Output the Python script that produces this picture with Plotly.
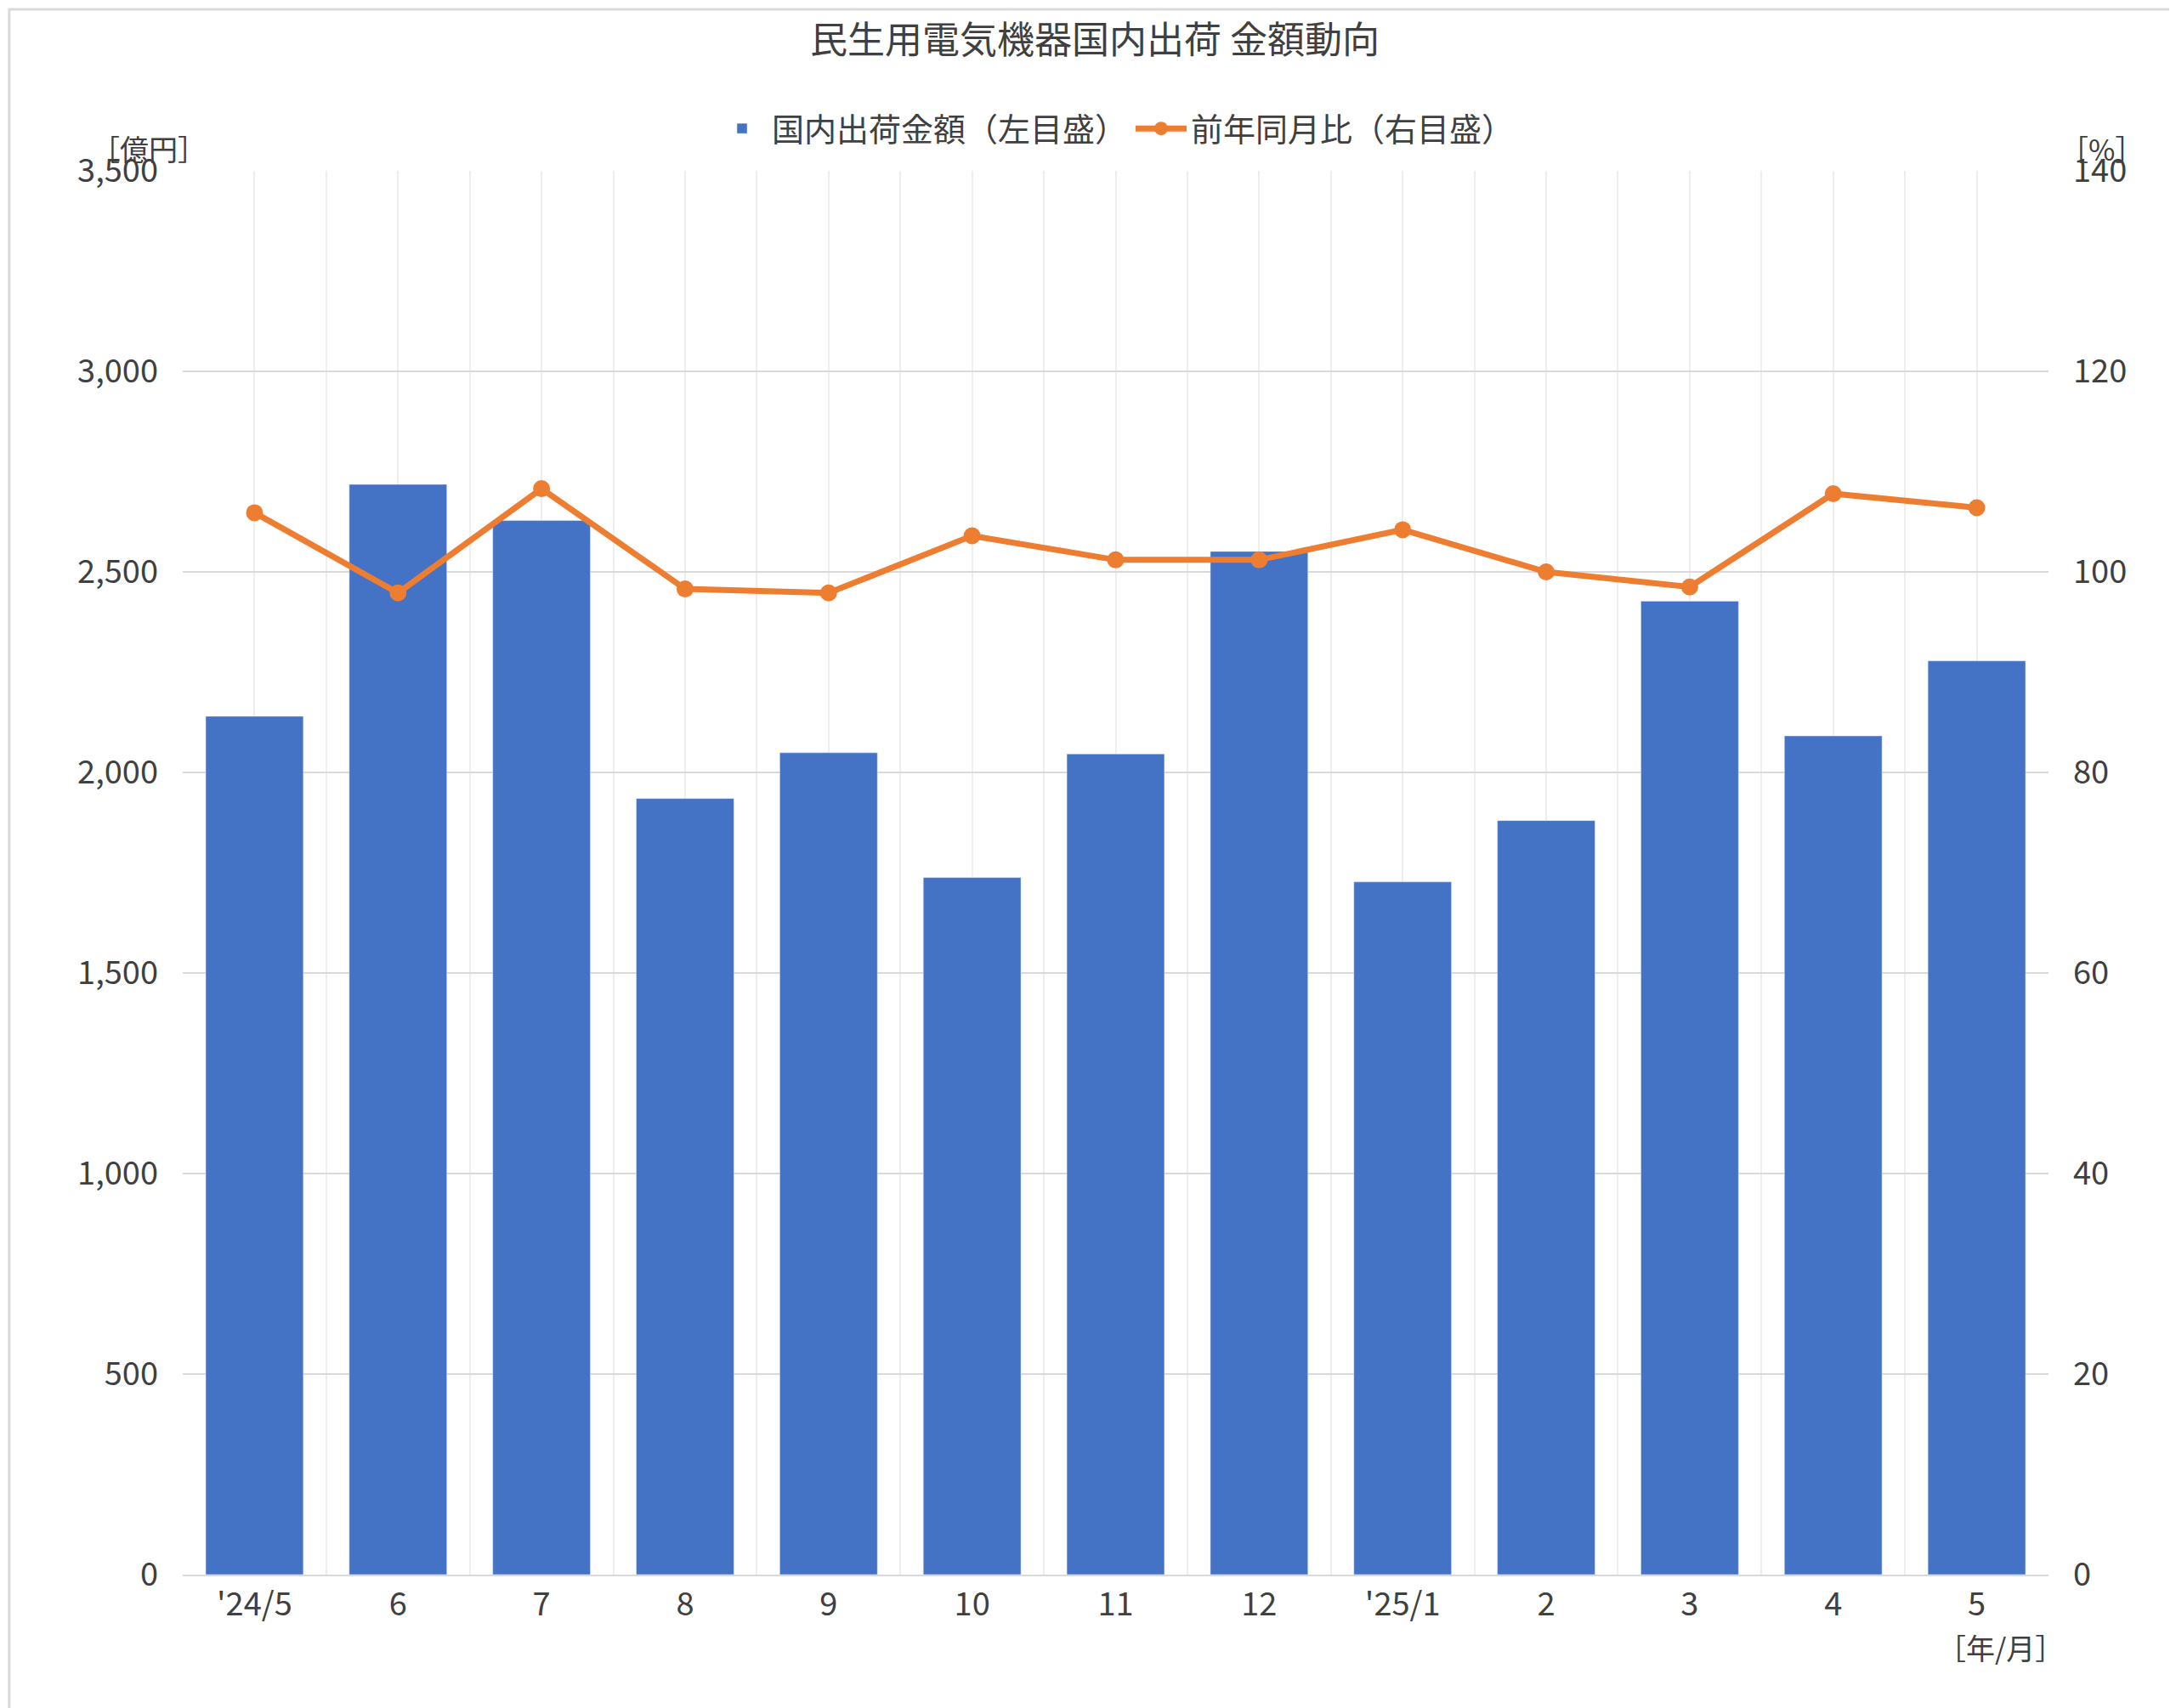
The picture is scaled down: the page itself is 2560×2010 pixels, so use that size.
import plotly.graph_objects as go

months = ["'24/5", "6", "7", "8", "9", "10", "11", "12", "'25/1", "2", "3", "4", "5"]
shipments = [2140, 2718, 2628, 1935, 2049, 1738, 2046, 2551, 1727, 1880, 2427, 2091, 2278]
yoy = [105.9, 97.9, 108.3, 98.3, 97.9, 103.6, 101.2, 101.2, 104.2, 100.0, 98.5, 107.8, 106.4]

xs = list(range(len(months)))
font = "Noto Sans CJK JP"

fig = go.Figure()
fig.add_trace(go.Bar(x=xs, y=shipments, name="国内出荷金額（左目盛）",
                     marker_color="#4472C4", width=0.68))
fig.add_trace(go.Scatter(x=xs, y=yoy, name="前年同月比（右目盛）", yaxis="y2",
                         mode="lines+markers", line=dict(color="#ED7D31", width=7),
                         marker=dict(size=20, color="#ED7D31")))

fig.update_layout(
    width=2560, height=2010,
    paper_bgcolor="white", plot_bgcolor="white",
    font=dict(family=font, size=38, color="#404040"),
    title=dict(text="民生用電気機器国内出荷 金額動向", x=0.5, y=0.988, yanchor="top",
               xanchor="center", font=dict(size=44, color="#404040")),
    margin=dict(l=207, r=158, t=193, b=165),
    legend=dict(orientation="h", x=0.5, xanchor="center", y=1.03, yanchor="middle",
                font=dict(size=38), itemwidth=60),
    bargap=0.3,
    xaxis=dict(range=[-0.5, 12.5], tickvals=xs, ticktext=months, showgrid=False,
               showline=True, linecolor="#D9D9D9", linewidth=2, ticks="",
               minor=dict(dtick=0.5, tick0=0, showgrid=True, gridcolor="#EEEEEE", gridwidth=2)),
    yaxis=dict(range=[0, 3500], dtick=500, tickformat=",", gridcolor="#D9D9D9",
               gridwidth=2, zeroline=False, ticklabelstandoff=28),
    yaxis2=dict(range=[0, 140], dtick=20, overlaying="y", side="right",
                showgrid=False, zeroline=False, ticklabelstandoff=28),
)

fig.add_annotation(text="［億円］", xref="paper", yref="paper", x=-0.05, y=1.032,
                   xanchor="left", showarrow=False, font=dict(size=34))
fig.add_annotation(text="［%］", xref="paper", yref="paper", x=1.052, y=1.032,
                   xanchor="right", showarrow=False, font=dict(size=34))
fig.add_annotation(text="［年/月］", xref="paper", yref="paper", x=1.009, y=-0.068,
                   xanchor="right", showarrow=False, font=dict(size=34))
fig.add_shape(type="rect", xref="paper", yref="paper", x0=-0.093, x1=1.071, y0=-0.0987, y1=1.115,
              line=dict(color="#D9D9D9", width=3), layer="below")

fig.write_html("out.html")
